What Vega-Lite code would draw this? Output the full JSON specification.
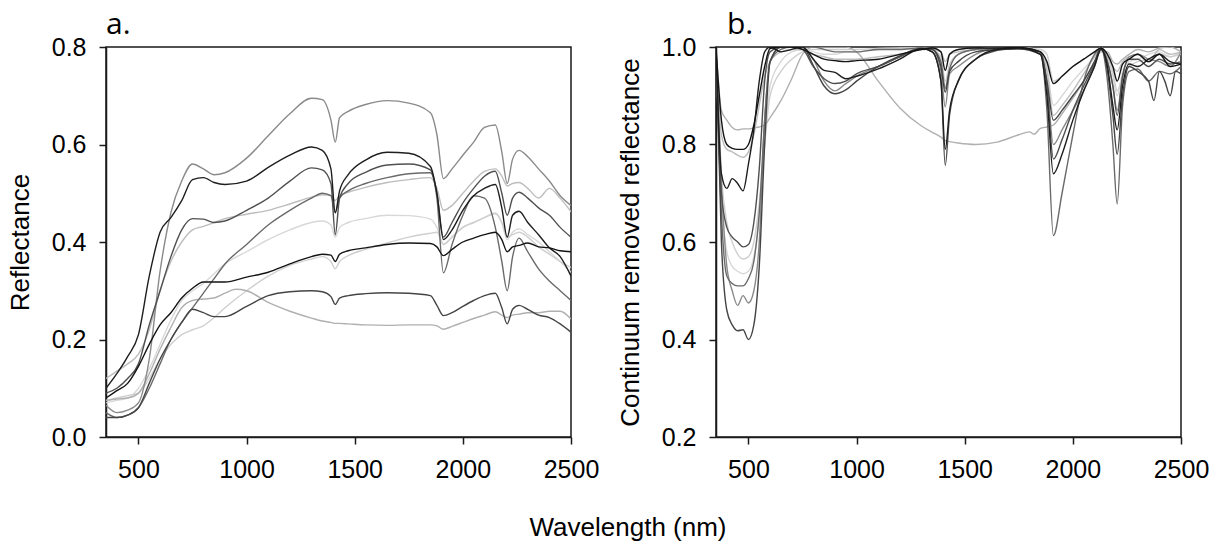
{
"$schema": "https://vega.github.io/schema/vega-lite/v6.json",
"background": "white",
"padding": {"left": 6, "top": 9, "right": 5, "bottom": 0},
"spacing": 145,
"bounds": "flush",
"title": {"text": "Wavelength (nm)", "orient": "bottom", "anchor": "middle", "font": "Liberation Sans", "fontSize": 26, "fontWeight": "normal", "color": "black", "baseline": "alphabetic", "offset": 53, "dx": 20},
"config": {
 "view": {"stroke": "#1a1a1a", "strokeWidth": 1.5},
 "axis": {"grid": false, "domainColor": "#1a1a1a", "domainWidth": 1.5, "tickColor": "#1a1a1a", "tickWidth": 1.5, "tickSize": 7, "labelFont": "Liberation Sans", "labelFontSize": 25, "labelColor": "black", "labelPadding": 13, "titleFont": "Liberation Sans", "titleFontSize": 26, "titleFontWeight": "normal", "titleColor": "black", "titlePadding": 18, "labelFlush": false, "labelOverlap": false}
},
"datasets": {
"a": [
{"s":"c6","w":350,"v":0.07},{"s":"c6","w":400,"v":0.075},{"s":"c6","w":450,"v":0.08},{"s":"c6","w":500,"v":0.1},{"s":"c6","w":550,"v":0.14},{"s":"c6","w":600,"v":0.19},{"s":"c6","w":650,"v":0.24},{"s":"c6","w":700,"v":0.28},{"s":"c6","w":750,"v":0.3},{"s":"c6","w":800,"v":0.315},{"s":"c6","w":850,"v":0.335},{"s":"c6","w":900,"v":0.355},{"s":"c6","w":1000,"v":0.38},{"s":"c6","w":1100,"v":0.405},{"s":"c6","w":1200,"v":0.425},{"s":"c6","w":1300,"v":0.44},{"s":"c6","w":1350,"v":0.443},{"s":"c6","w":1390,"v":0.435},{"s":"c6","w":1410,"v":0.41},{"s":"c6","w":1430,"v":0.43},{"s":"c6","w":1470,"v":0.44},{"s":"c6","w":1550,"v":0.448},{"s":"c6","w":1650,"v":0.455},{"s":"c6","w":1750,"v":0.454},{"s":"c6","w":1850,"v":0.447},{"s":"c6","w":1880,"v":0.43},{"s":"c6","w":1910,"v":0.395},{"s":"c6","w":1950,"v":0.41},{"s":"c6","w":2000,"v":0.43},{"s":"c6","w":2050,"v":0.44},{"s":"c6","w":2100,"v":0.45},{"s":"c6","w":2150,"v":0.46},{"s":"c6","w":2180,"v":0.44},{"s":"c6","w":2205,"v":0.405},{"s":"c6","w":2230,"v":0.42},{"s":"c6","w":2260,"v":0.427},{"s":"c6","w":2300,"v":0.415},{"s":"c6","w":2350,"v":0.4},{"s":"c6","w":2400,"v":0.38},{"s":"c6","w":2450,"v":0.36},{"s":"c6","w":2500,"v":0.338},
{"s":"c8","w":350,"v":0.075},{"s":"c8","w":400,"v":0.08},{"s":"c8","w":450,"v":0.085},{"s":"c8","w":500,"v":0.09},{"s":"c8","w":550,"v":0.12},{"s":"c8","w":600,"v":0.16},{"s":"c8","w":650,"v":0.19},{"s":"c8","w":700,"v":0.21},{"s":"c8","w":750,"v":0.22},{"s":"c8","w":800,"v":0.228},{"s":"c8","w":850,"v":0.245},{"s":"c8","w":900,"v":0.265},{"s":"c8","w":1000,"v":0.3},{"s":"c8","w":1100,"v":0.33},{"s":"c8","w":1200,"v":0.352},{"s":"c8","w":1300,"v":0.365},{"s":"c8","w":1350,"v":0.37},{"s":"c8","w":1390,"v":0.36},{"s":"c8","w":1410,"v":0.345},{"s":"c8","w":1430,"v":0.36},{"s":"c8","w":1470,"v":0.372},{"s":"c8","w":1550,"v":0.385},{"s":"c8","w":1650,"v":0.398},{"s":"c8","w":1750,"v":0.41},{"s":"c8","w":1850,"v":0.418},{"s":"c8","w":1880,"v":0.42},{"s":"c8","w":1910,"v":0.395},{"s":"c8","w":1950,"v":0.41},{"s":"c8","w":2000,"v":0.43},{"s":"c8","w":2050,"v":0.44},{"s":"c8","w":2100,"v":0.45},{"s":"c8","w":2150,"v":0.458},{"s":"c8","w":2180,"v":0.44},{"s":"c8","w":2205,"v":0.41},{"s":"c8","w":2230,"v":0.415},{"s":"c8","w":2260,"v":0.42},{"s":"c8","w":2300,"v":0.41},{"s":"c8","w":2350,"v":0.39},{"s":"c8","w":2400,"v":0.375},{"s":"c8","w":2450,"v":0.36},{"s":"c8","w":2500,"v":0.348},
{"s":"c5","w":350,"v":0.12},{"s":"c5","w":400,"v":0.135},{"s":"c5","w":450,"v":0.15},{"s":"c5","w":500,"v":0.17},{"s":"c5","w":550,"v":0.22},{"s":"c5","w":600,"v":0.3},{"s":"c5","w":650,"v":0.36},{"s":"c5","w":700,"v":0.4},{"s":"c5","w":750,"v":0.425},{"s":"c5","w":800,"v":0.432},{"s":"c5","w":850,"v":0.44},{"s":"c5","w":900,"v":0.448},{"s":"c5","w":1000,"v":0.457},{"s":"c5","w":1100,"v":0.465},{"s":"c5","w":1200,"v":0.478},{"s":"c5","w":1300,"v":0.492},{"s":"c5","w":1350,"v":0.497},{"s":"c5","w":1390,"v":0.495},{"s":"c5","w":1410,"v":0.485},{"s":"c5","w":1430,"v":0.495},{"s":"c5","w":1470,"v":0.502},{"s":"c5","w":1550,"v":0.512},{"s":"c5","w":1650,"v":0.522},{"s":"c5","w":1750,"v":0.528},{"s":"c5","w":1850,"v":0.532},{"s":"c5","w":1880,"v":0.51},{"s":"c5","w":1910,"v":0.465},{"s":"c5","w":1950,"v":0.475},{"s":"c5","w":2000,"v":0.5},{"s":"c5","w":2050,"v":0.525},{"s":"c5","w":2100,"v":0.545},{"s":"c5","w":2150,"v":0.55},{"s":"c5","w":2180,"v":0.535},{"s":"c5","w":2205,"v":0.515},{"s":"c5","w":2230,"v":0.52},{"s":"c5","w":2260,"v":0.522},{"s":"c5","w":2300,"v":0.51},{"s":"c5","w":2350,"v":0.49},{"s":"c5","w":2400,"v":0.51},{"s":"c5","w":2450,"v":0.49},{"s":"c5","w":2500,"v":0.462},
{"s":"c10","w":350,"v":0.075},{"s":"c10","w":400,"v":0.078},{"s":"c10","w":450,"v":0.08},{"s":"c10","w":500,"v":0.09},{"s":"c10","w":550,"v":0.13},{"s":"c10","w":600,"v":0.18},{"s":"c10","w":650,"v":0.225},{"s":"c10","w":700,"v":0.265},{"s":"c10","w":750,"v":0.28},{"s":"c10","w":800,"v":0.283},{"s":"c10","w":850,"v":0.285},{"s":"c10","w":900,"v":0.295},{"s":"c10","w":950,"v":0.303},{"s":"c10","w":1000,"v":0.3},{"s":"c10","w":1100,"v":0.276},{"s":"c10","w":1200,"v":0.258},{"s":"c10","w":1300,"v":0.244},{"s":"c10","w":1350,"v":0.238},{"s":"c10","w":1390,"v":0.235},{"s":"c10","w":1410,"v":0.233},{"s":"c10","w":1430,"v":0.233},{"s":"c10","w":1470,"v":0.232},{"s":"c10","w":1550,"v":0.23},{"s":"c10","w":1650,"v":0.229},{"s":"c10","w":1750,"v":0.23},{"s":"c10","w":1850,"v":0.23},{"s":"c10","w":1880,"v":0.228},{"s":"c10","w":1910,"v":0.221},{"s":"c10","w":1950,"v":0.227},{"s":"c10","w":2000,"v":0.235},{"s":"c10","w":2050,"v":0.243},{"s":"c10","w":2100,"v":0.25},{"s":"c10","w":2150,"v":0.257},{"s":"c10","w":2180,"v":0.25},{"s":"c10","w":2205,"v":0.245},{"s":"c10","w":2230,"v":0.25},{"s":"c10","w":2260,"v":0.252},{"s":"c10","w":2300,"v":0.255},{"s":"c10","w":2350,"v":0.255},{"s":"c10","w":2400,"v":0.258},{"s":"c10","w":2450,"v":0.258},{"s":"c10","w":2500,"v":0.242},
{"s":"c1","w":350,"v":0.065},{"s":"c1","w":400,"v":0.05},{"s":"c1","w":450,"v":0.055},{"s":"c1","w":500,"v":0.07},{"s":"c1","w":550,"v":0.16},{"s":"c1","w":600,"v":0.34},{"s":"c1","w":650,"v":0.46},{"s":"c1","w":700,"v":0.525},{"s":"c1","w":750,"v":0.56},{"s":"c1","w":800,"v":0.55},{"s":"c1","w":850,"v":0.538},{"s":"c1","w":900,"v":0.542},{"s":"c1","w":1000,"v":0.572},{"s":"c1","w":1100,"v":0.618},{"s":"c1","w":1200,"v":0.663},{"s":"c1","w":1300,"v":0.695},{"s":"c1","w":1350,"v":0.692},{"s":"c1","w":1390,"v":0.65},{"s":"c1","w":1410,"v":0.605},{"s":"c1","w":1430,"v":0.655},{"s":"c1","w":1470,"v":0.668},{"s":"c1","w":1550,"v":0.682},{"s":"c1","w":1650,"v":0.69},{"s":"c1","w":1750,"v":0.685},{"s":"c1","w":1850,"v":0.665},{"s":"c1","w":1880,"v":0.62},{"s":"c1","w":1910,"v":0.53},{"s":"c1","w":1950,"v":0.55},{"s":"c1","w":2000,"v":0.578},{"s":"c1","w":2050,"v":0.605},{"s":"c1","w":2100,"v":0.635},{"s":"c1","w":2150,"v":0.64},{"s":"c1","w":2180,"v":0.585},{"s":"c1","w":2205,"v":0.52},{"s":"c1","w":2230,"v":0.57},{"s":"c1","w":2260,"v":0.588},{"s":"c1","w":2300,"v":0.575},{"s":"c1","w":2350,"v":0.55},{"s":"c1","w":2400,"v":0.525},{"s":"c1","w":2450,"v":0.495},{"s":"c1","w":2500,"v":0.475},
{"s":"c4","w":350,"v":0.05},{"s":"c4","w":400,"v":0.04},{"s":"c4","w":450,"v":0.045},{"s":"c4","w":500,"v":0.06},{"s":"c4","w":550,"v":0.1},{"s":"c4","w":600,"v":0.15},{"s":"c4","w":650,"v":0.2},{"s":"c4","w":700,"v":0.235},{"s":"c4","w":750,"v":0.265},{"s":"c4","w":800,"v":0.295},{"s":"c4","w":850,"v":0.325},{"s":"c4","w":900,"v":0.355},{"s":"c4","w":1000,"v":0.395},{"s":"c4","w":1100,"v":0.435},{"s":"c4","w":1200,"v":0.465},{"s":"c4","w":1300,"v":0.49},{"s":"c4","w":1350,"v":0.5},{"s":"c4","w":1390,"v":0.495},{"s":"c4","w":1410,"v":0.46},{"s":"c4","w":1430,"v":0.49},{"s":"c4","w":1470,"v":0.505},{"s":"c4","w":1550,"v":0.52},{"s":"c4","w":1650,"v":0.532},{"s":"c4","w":1750,"v":0.54},{"s":"c4","w":1850,"v":0.542},{"s":"c4","w":1880,"v":0.49},{"s":"c4","w":1910,"v":0.337},{"s":"c4","w":1950,"v":0.395},{"s":"c4","w":2000,"v":0.455},{"s":"c4","w":2050,"v":0.495},{"s":"c4","w":2100,"v":0.49},{"s":"c4","w":2150,"v":0.43},{"s":"c4","w":2180,"v":0.36},{"s":"c4","w":2205,"v":0.3},{"s":"c4","w":2230,"v":0.37},{"s":"c4","w":2260,"v":0.408},{"s":"c4","w":2300,"v":0.38},{"s":"c4","w":2350,"v":0.345},{"s":"c4","w":2400,"v":0.32},{"s":"c4","w":2450,"v":0.3},{"s":"c4","w":2500,"v":0.28},
{"s":"c3","w":350,"v":0.09},{"s":"c3","w":400,"v":0.1},{"s":"c3","w":450,"v":0.12},{"s":"c3","w":500,"v":0.15},{"s":"c3","w":550,"v":0.23},{"s":"c3","w":600,"v":0.3},{"s":"c3","w":650,"v":0.37},{"s":"c3","w":700,"v":0.425},{"s":"c3","w":750,"v":0.448},{"s":"c3","w":800,"v":0.447},{"s":"c3","w":850,"v":0.44},{"s":"c3","w":900,"v":0.443},{"s":"c3","w":1000,"v":0.465},{"s":"c3","w":1100,"v":0.49},{"s":"c3","w":1200,"v":0.525},{"s":"c3","w":1300,"v":0.552},{"s":"c3","w":1350,"v":0.548},{"s":"c3","w":1390,"v":0.52},{"s":"c3","w":1410,"v":0.415},{"s":"c3","w":1430,"v":0.49},{"s":"c3","w":1470,"v":0.52},{"s":"c3","w":1550,"v":0.543},{"s":"c3","w":1650,"v":0.558},{"s":"c3","w":1750,"v":0.56},{"s":"c3","w":1850,"v":0.548},{"s":"c3","w":1880,"v":0.5},{"s":"c3","w":1910,"v":0.41},{"s":"c3","w":1950,"v":0.44},{"s":"c3","w":2000,"v":0.48},{"s":"c3","w":2050,"v":0.51},{"s":"c3","w":2100,"v":0.535},{"s":"c3","w":2150,"v":0.545},{"s":"c3","w":2180,"v":0.5},{"s":"c3","w":2205,"v":0.455},{"s":"c3","w":2230,"v":0.49},{"s":"c3","w":2260,"v":0.502},{"s":"c3","w":2300,"v":0.49},{"s":"c3","w":2350,"v":0.47},{"s":"c3","w":2400,"v":0.455},{"s":"c3","w":2450,"v":0.43},{"s":"c3","w":2500,"v":0.41},
{"s":"c9","w":350,"v":0.04},{"s":"c9","w":400,"v":0.04},{"s":"c9","w":450,"v":0.045},{"s":"c9","w":500,"v":0.06},{"s":"c9","w":550,"v":0.11},{"s":"c9","w":600,"v":0.16},{"s":"c9","w":650,"v":0.2},{"s":"c9","w":700,"v":0.235},{"s":"c9","w":750,"v":0.262},{"s":"c9","w":800,"v":0.255},{"s":"c9","w":850,"v":0.247},{"s":"c9","w":900,"v":0.247},{"s":"c9","w":1000,"v":0.268},{"s":"c9","w":1100,"v":0.29},{"s":"c9","w":1200,"v":0.298},{"s":"c9","w":1300,"v":0.3},{"s":"c9","w":1350,"v":0.298},{"s":"c9","w":1390,"v":0.288},{"s":"c9","w":1410,"v":0.272},{"s":"c9","w":1430,"v":0.285},{"s":"c9","w":1470,"v":0.29},{"s":"c9","w":1550,"v":0.294},{"s":"c9","w":1650,"v":0.296},{"s":"c9","w":1750,"v":0.295},{"s":"c9","w":1850,"v":0.29},{"s":"c9","w":1880,"v":0.27},{"s":"c9","w":1910,"v":0.249},{"s":"c9","w":1950,"v":0.255},{"s":"c9","w":2000,"v":0.268},{"s":"c9","w":2050,"v":0.28},{"s":"c9","w":2100,"v":0.29},{"s":"c9","w":2150,"v":0.295},{"s":"c9","w":2180,"v":0.265},{"s":"c9","w":2205,"v":0.232},{"s":"c9","w":2230,"v":0.262},{"s":"c9","w":2260,"v":0.27},{"s":"c9","w":2300,"v":0.262},{"s":"c9","w":2350,"v":0.25},{"s":"c9","w":2400,"v":0.245},{"s":"c9","w":2450,"v":0.232},{"s":"c9","w":2500,"v":0.215},
{"s":"c2","w":350,"v":0.1},{"s":"c2","w":400,"v":0.13},{"s":"c2","w":450,"v":0.165},{"s":"c2","w":500,"v":0.21},{"s":"c2","w":550,"v":0.33},{"s":"c2","w":600,"v":0.42},{"s":"c2","w":650,"v":0.45},{"s":"c2","w":700,"v":0.485},{"s":"c2","w":750,"v":0.528},{"s":"c2","w":800,"v":0.532},{"s":"c2","w":850,"v":0.522},{"s":"c2","w":900,"v":0.518},{"s":"c2","w":1000,"v":0.525},{"s":"c2","w":1100,"v":0.553},{"s":"c2","w":1200,"v":0.578},{"s":"c2","w":1300,"v":0.595},{"s":"c2","w":1350,"v":0.588},{"s":"c2","w":1390,"v":0.55},{"s":"c2","w":1410,"v":0.46},{"s":"c2","w":1430,"v":0.505},{"s":"c2","w":1470,"v":0.538},{"s":"c2","w":1550,"v":0.568},{"s":"c2","w":1650,"v":0.584},{"s":"c2","w":1750,"v":0.582},{"s":"c2","w":1850,"v":0.555},{"s":"c2","w":1880,"v":0.5},{"s":"c2","w":1910,"v":0.405},{"s":"c2","w":1950,"v":0.425},{"s":"c2","w":2000,"v":0.465},{"s":"c2","w":2050,"v":0.495},{"s":"c2","w":2100,"v":0.51},{"s":"c2","w":2150,"v":0.518},{"s":"c2","w":2180,"v":0.47},{"s":"c2","w":2205,"v":0.41},{"s":"c2","w":2230,"v":0.455},{"s":"c2","w":2260,"v":0.463},{"s":"c2","w":2300,"v":0.44},{"s":"c2","w":2350,"v":0.415},{"s":"c2","w":2400,"v":0.388},{"s":"c2","w":2450,"v":0.37},{"s":"c2","w":2500,"v":0.33},
{"s":"c7","w":350,"v":0.08},{"s":"c7","w":400,"v":0.095},{"s":"c7","w":450,"v":0.11},{"s":"c7","w":500,"v":0.145},{"s":"c7","w":550,"v":0.19},{"s":"c7","w":600,"v":0.23},{"s":"c7","w":650,"v":0.255},{"s":"c7","w":700,"v":0.285},{"s":"c7","w":750,"v":0.305},{"s":"c7","w":800,"v":0.318},{"s":"c7","w":850,"v":0.318},{"s":"c7","w":900,"v":0.318},{"s":"c7","w":1000,"v":0.328},{"s":"c7","w":1100,"v":0.338},{"s":"c7","w":1200,"v":0.355},{"s":"c7","w":1300,"v":0.37},{"s":"c7","w":1350,"v":0.375},{"s":"c7","w":1390,"v":0.373},{"s":"c7","w":1410,"v":0.36},{"s":"c7","w":1430,"v":0.375},{"s":"c7","w":1470,"v":0.382},{"s":"c7","w":1550,"v":0.388},{"s":"c7","w":1650,"v":0.395},{"s":"c7","w":1750,"v":0.398},{"s":"c7","w":1850,"v":0.397},{"s":"c7","w":1880,"v":0.39},{"s":"c7","w":1910,"v":0.372},{"s":"c7","w":1950,"v":0.385},{"s":"c7","w":2000,"v":0.4},{"s":"c7","w":2050,"v":0.408},{"s":"c7","w":2100,"v":0.415},{"s":"c7","w":2150,"v":0.42},{"s":"c7","w":2180,"v":0.405},{"s":"c7","w":2205,"v":0.38},{"s":"c7","w":2230,"v":0.39},{"s":"c7","w":2260,"v":0.393},{"s":"c7","w":2300,"v":0.398},{"s":"c7","w":2350,"v":0.39},{"s":"c7","w":2400,"v":0.388},{"s":"c7","w":2450,"v":0.382},{"s":"c7","w":2500,"v":0.38}
],
"b": [
{"s":"c6","w":350,"v":1},{"s":"c6","w":375,"v":0.7},{"s":"c6","w":400,"v":0.58},{"s":"c6","w":425,"v":0.55},{"s":"c6","w":450,"v":0.54},{"s":"c6","w":475,"v":0.535},{"s":"c6","w":500,"v":0.54},{"s":"c6","w":525,"v":0.57},{"s":"c6","w":550,"v":0.65},{"s":"c6","w":575,"v":0.8},{"s":"c6","w":600,"v":0.92},{"s":"c6","w":650,"v":0.97},{"s":"c6","w":700,"v":0.99},{"s":"c6","w":750,"v":0.995},{"s":"c6","w":800,"v":0.99},{"s":"c6","w":850,"v":0.985},{"s":"c6","w":900,"v":0.985},{"s":"c6","w":950,"v":0.99},{"s":"c6","w":1000,"v":0.99},{"s":"c6","w":1100,"v":0.995},{"s":"c6","w":1200,"v":0.997},{"s":"c6","w":1300,"v":0.998},{"s":"c6","w":1350,"v":0.995},{"s":"c6","w":1390,"v":0.975},{"s":"c6","w":1410,"v":0.92},{"s":"c6","w":1430,"v":0.96},{"s":"c6","w":1470,"v":0.985},{"s":"c6","w":1550,"v":0.995},{"s":"c6","w":1650,"v":0.998},{"s":"c6","w":1750,"v":0.998},{"s":"c6","w":1850,"v":0.99},{"s":"c6","w":1880,"v":0.96},{"s":"c6","w":1910,"v":0.88},{"s":"c6","w":1950,"v":0.9},{"s":"c6","w":2000,"v":0.93},{"s":"c6","w":2050,"v":0.955},{"s":"c6","w":2100,"v":0.98},{"s":"c6","w":2130,"v":0.998},{"s":"c6","w":2160,"v":0.98},{"s":"c6","w":2185,"v":0.94},{"s":"c6","w":2205,"v":0.9},{"s":"c6","w":2230,"v":0.95},{"s":"c6","w":2260,"v":0.97},{"s":"c6","w":2300,"v":0.975},{"s":"c6","w":2350,"v":0.985},{"s":"c6","w":2400,"v":0.99},{"s":"c6","w":2450,"v":0.98},{"s":"c6","w":2500,"v":0.985},
{"s":"c8","w":350,"v":1},{"s":"c8","w":375,"v":0.74},{"s":"c8","w":400,"v":0.64},{"s":"c8","w":425,"v":0.6},{"s":"c8","w":450,"v":0.575},{"s":"c8","w":475,"v":0.565},{"s":"c8","w":500,"v":0.57},{"s":"c8","w":525,"v":0.6},{"s":"c8","w":550,"v":0.68},{"s":"c8","w":575,"v":0.8},{"s":"c8","w":600,"v":0.9},{"s":"c8","w":650,"v":0.95},{"s":"c8","w":700,"v":0.975},{"s":"c8","w":750,"v":0.99},{"s":"c8","w":800,"v":0.995},{"s":"c8","w":850,"v":0.995},{"s":"c8","w":900,"v":0.995},{"s":"c8","w":950,"v":0.995},{"s":"c8","w":1000,"v":0.995},{"s":"c8","w":1100,"v":0.997},{"s":"c8","w":1200,"v":0.998},{"s":"c8","w":1300,"v":0.998},{"s":"c8","w":1350,"v":0.995},{"s":"c8","w":1390,"v":0.98},{"s":"c8","w":1410,"v":0.93},{"s":"c8","w":1430,"v":0.965},{"s":"c8","w":1470,"v":0.985},{"s":"c8","w":1550,"v":0.995},{"s":"c8","w":1650,"v":0.998},{"s":"c8","w":1750,"v":0.998},{"s":"c8","w":1850,"v":0.995},{"s":"c8","w":1880,"v":0.985},{"s":"c8","w":1910,"v":0.93},{"s":"c8","w":1950,"v":0.94},{"s":"c8","w":2000,"v":0.96},{"s":"c8","w":2050,"v":0.975},{"s":"c8","w":2100,"v":0.99},{"s":"c8","w":2130,"v":0.998},{"s":"c8","w":2160,"v":0.98},{"s":"c8","w":2185,"v":0.95},{"s":"c8","w":2205,"v":0.91},{"s":"c8","w":2230,"v":0.94},{"s":"c8","w":2260,"v":0.96},{"s":"c8","w":2300,"v":0.97},{"s":"c8","w":2350,"v":0.975},{"s":"c8","w":2400,"v":0.985},{"s":"c8","w":2450,"v":0.98},{"s":"c8","w":2500,"v":0.99},
{"s":"c5","w":350,"v":1},{"s":"c5","w":375,"v":0.82},{"s":"c5","w":400,"v":0.79},{"s":"c5","w":425,"v":0.785},{"s":"c5","w":450,"v":0.778},{"s":"c5","w":475,"v":0.774},{"s":"c5","w":500,"v":0.785},{"s":"c5","w":525,"v":0.82},{"s":"c5","w":550,"v":0.88},{"s":"c5","w":575,"v":0.94},{"s":"c5","w":600,"v":0.97},{"s":"c5","w":650,"v":0.99},{"s":"c5","w":700,"v":0.995},{"s":"c5","w":750,"v":0.995},{"s":"c5","w":800,"v":0.985},{"s":"c5","w":850,"v":0.98},{"s":"c5","w":900,"v":0.975},{"s":"c5","w":950,"v":0.975},{"s":"c5","w":1000,"v":0.975},{"s":"c5","w":1100,"v":0.98},{"s":"c5","w":1200,"v":0.985},{"s":"c5","w":1300,"v":0.995},{"s":"c5","w":1350,"v":0.995},{"s":"c5","w":1390,"v":0.99},{"s":"c5","w":1410,"v":0.97},{"s":"c5","w":1430,"v":0.985},{"s":"c5","w":1470,"v":0.99},{"s":"c5","w":1550,"v":0.995},{"s":"c5","w":1650,"v":0.997},{"s":"c5","w":1750,"v":0.997},{"s":"c5","w":1850,"v":0.99},{"s":"c5","w":1880,"v":0.95},{"s":"c5","w":1910,"v":0.86},{"s":"c5","w":1950,"v":0.88},{"s":"c5","w":2000,"v":0.91},{"s":"c5","w":2050,"v":0.945},{"s":"c5","w":2100,"v":0.98},{"s":"c5","w":2130,"v":0.998},{"s":"c5","w":2160,"v":0.98},{"s":"c5","w":2185,"v":0.96},{"s":"c5","w":2205,"v":0.95},{"s":"c5","w":2230,"v":0.97},{"s":"c5","w":2260,"v":0.98},{"s":"c5","w":2300,"v":0.985},{"s":"c5","w":2350,"v":0.97},{"s":"c5","w":2400,"v":0.995},{"s":"c5","w":2450,"v":0.985},{"s":"c5","w":2500,"v":0.99},
{"s":"c10","w":350,"v":1},{"s":"c10","w":375,"v":0.87},{"s":"c10","w":400,"v":0.85},{"s":"c10","w":425,"v":0.835},{"s":"c10","w":450,"v":0.83},{"s":"c10","w":475,"v":0.832},{"s":"c10","w":500,"v":0.832},{"s":"c10","w":525,"v":0.834},{"s":"c10","w":550,"v":0.836},{"s":"c10","w":575,"v":0.84},{"s":"c10","w":600,"v":0.855},{"s":"c10","w":650,"v":0.89},{"s":"c10","w":700,"v":0.935},{"s":"c10","w":750,"v":0.985},{"s":"c10","w":800,"v":1},{"s":"c10","w":850,"v":1},{"s":"c10","w":900,"v":1},{"s":"c10","w":950,"v":1},{"s":"c10","w":1000,"v":0.99},{"s":"c10","w":1100,"v":0.93},{"s":"c10","w":1200,"v":0.875},{"s":"c10","w":1300,"v":0.838},{"s":"c10","w":1350,"v":0.825},{"s":"c10","w":1390,"v":0.815},{"s":"c10","w":1410,"v":0.808},{"s":"c10","w":1430,"v":0.806},{"s":"c10","w":1470,"v":0.803},{"s":"c10","w":1550,"v":0.8},{"s":"c10","w":1650,"v":0.805},{"s":"c10","w":1750,"v":0.82},{"s":"c10","w":1800,"v":0.826},{"s":"c10","w":1820,"v":0.821},{"s":"c10","w":1850,"v":0.833},{"s":"c10","w":1880,"v":0.836},{"s":"c10","w":1910,"v":0.84},{"s":"c10","w":1950,"v":0.863},{"s":"c10","w":2000,"v":0.895},{"s":"c10","w":2050,"v":0.93},{"s":"c10","w":2100,"v":0.97},{"s":"c10","w":2130,"v":0.99},{"s":"c10","w":2160,"v":0.99},{"s":"c10","w":2185,"v":0.97},{"s":"c10","w":2205,"v":0.965},{"s":"c10","w":2230,"v":0.975},{"s":"c10","w":2260,"v":0.985},{"s":"c10","w":2300,"v":0.995},{"s":"c10","w":2350,"v":0.99},{"s":"c10","w":2400,"v":0.998},{"s":"c10","w":2450,"v":1},{"s":"c10","w":2500,"v":0.99},
{"s":"c1","w":350,"v":1},{"s":"c1","w":375,"v":0.72},{"s":"c1","w":400,"v":0.55},{"s":"c1","w":425,"v":0.5},{"s":"c1","w":450,"v":0.47},{"s":"c1","w":475,"v":0.49},{"s":"c1","w":500,"v":0.475},{"s":"c1","w":525,"v":0.5},{"s":"c1","w":550,"v":0.6},{"s":"c1","w":575,"v":0.85},{"s":"c1","w":600,"v":0.97},{"s":"c1","w":650,"v":1},{"s":"c1","w":700,"v":1},{"s":"c1","w":750,"v":1},{"s":"c1","w":800,"v":0.975},{"s":"c1","w":850,"v":0.93},{"s":"c1","w":900,"v":0.91},{"s":"c1","w":950,"v":0.925},{"s":"c1","w":1000,"v":0.94},{"s":"c1","w":1100,"v":0.96},{"s":"c1","w":1200,"v":0.98},{"s":"c1","w":1300,"v":1},{"s":"c1","w":1350,"v":0.995},{"s":"c1","w":1390,"v":0.95},{"s":"c1","w":1410,"v":0.877},{"s":"c1","w":1430,"v":0.945},{"s":"c1","w":1470,"v":0.96},{"s":"c1","w":1550,"v":0.985},{"s":"c1","w":1650,"v":0.998},{"s":"c1","w":1750,"v":0.999},{"s":"c1","w":1850,"v":0.99},{"s":"c1","w":1880,"v":0.93},{"s":"c1","w":1910,"v":0.8},{"s":"c1","w":1950,"v":0.83},{"s":"c1","w":2000,"v":0.87},{"s":"c1","w":2050,"v":0.91},{"s":"c1","w":2100,"v":0.96},{"s":"c1","w":2130,"v":0.995},{"s":"c1","w":2160,"v":0.97},{"s":"c1","w":2185,"v":0.92},{"s":"c1","w":2205,"v":0.87},{"s":"c1","w":2230,"v":0.94},{"s":"c1","w":2260,"v":0.98},{"s":"c1","w":2300,"v":0.985},{"s":"c1","w":2350,"v":0.975},{"s":"c1","w":2400,"v":0.97},{"s":"c1","w":2450,"v":0.96},{"s":"c1","w":2500,"v":0.99},
{"s":"c4","w":350,"v":1},{"s":"c4","w":375,"v":0.66},{"s":"c4","w":400,"v":0.53},{"s":"c4","w":425,"v":0.515},{"s":"c4","w":450,"v":0.51},{"s":"c4","w":475,"v":0.51},{"s":"c4","w":500,"v":0.525},{"s":"c4","w":525,"v":0.56},{"s":"c4","w":550,"v":0.66},{"s":"c4","w":575,"v":0.85},{"s":"c4","w":600,"v":0.97},{"s":"c4","w":650,"v":0.995},{"s":"c4","w":700,"v":1},{"s":"c4","w":750,"v":1},{"s":"c4","w":800,"v":1},{"s":"c4","w":850,"v":0.995},{"s":"c4","w":900,"v":0.99},{"s":"c4","w":950,"v":0.99},{"s":"c4","w":1000,"v":0.99},{"s":"c4","w":1100,"v":0.995},{"s":"c4","w":1200,"v":0.995},{"s":"c4","w":1300,"v":0.998},{"s":"c4","w":1350,"v":0.995},{"s":"c4","w":1390,"v":0.97},{"s":"c4","w":1410,"v":0.915},{"s":"c4","w":1430,"v":0.955},{"s":"c4","w":1470,"v":0.985},{"s":"c4","w":1550,"v":0.995},{"s":"c4","w":1650,"v":0.997},{"s":"c4","w":1750,"v":0.998},{"s":"c4","w":1850,"v":0.99},{"s":"c4","w":1880,"v":0.87},{"s":"c4","w":1910,"v":0.613},{"s":"c4","w":1950,"v":0.7},{"s":"c4","w":2000,"v":0.82},{"s":"c4","w":2050,"v":0.93},{"s":"c4","w":2100,"v":0.985},{"s":"c4","w":2130,"v":0.998},{"s":"c4","w":2160,"v":0.93},{"s":"c4","w":2185,"v":0.8},{"s":"c4","w":2205,"v":0.678},{"s":"c4","w":2230,"v":0.88},{"s":"c4","w":2260,"v":0.95},{"s":"c4","w":2300,"v":0.955},{"s":"c4","w":2350,"v":0.93},{"s":"c4","w":2400,"v":0.95},{"s":"c4","w":2450,"v":0.945},{"s":"c4","w":2500,"v":0.96},
{"s":"c3","w":350,"v":1},{"s":"c3","w":375,"v":0.7},{"s":"c3","w":400,"v":0.63},{"s":"c3","w":425,"v":0.61},{"s":"c3","w":450,"v":0.6},{"s":"c3","w":475,"v":0.59},{"s":"c3","w":500,"v":0.595},{"s":"c3","w":525,"v":0.64},{"s":"c3","w":550,"v":0.75},{"s":"c3","w":575,"v":0.93},{"s":"c3","w":600,"v":0.99},{"s":"c3","w":650,"v":1},{"s":"c3","w":700,"v":1},{"s":"c3","w":750,"v":0.995},{"s":"c3","w":800,"v":0.96},{"s":"c3","w":850,"v":0.935},{"s":"c3","w":900,"v":0.925},{"s":"c3","w":950,"v":0.93},{"s":"c3","w":1000,"v":0.945},{"s":"c3","w":1100,"v":0.96},{"s":"c3","w":1200,"v":0.98},{"s":"c3","w":1300,"v":0.997},{"s":"c3","w":1350,"v":0.99},{"s":"c3","w":1390,"v":0.93},{"s":"c3","w":1410,"v":0.757},{"s":"c3","w":1430,"v":0.86},{"s":"c3","w":1470,"v":0.93},{"s":"c3","w":1550,"v":0.975},{"s":"c3","w":1650,"v":0.993},{"s":"c3","w":1750,"v":0.998},{"s":"c3","w":1850,"v":0.99},{"s":"c3","w":1880,"v":0.92},{"s":"c3","w":1910,"v":0.77},{"s":"c3","w":1950,"v":0.81},{"s":"c3","w":2000,"v":0.87},{"s":"c3","w":2050,"v":0.92},{"s":"c3","w":2100,"v":0.965},{"s":"c3","w":2130,"v":0.998},{"s":"c3","w":2160,"v":0.97},{"s":"c3","w":2185,"v":0.92},{"s":"c3","w":2205,"v":0.86},{"s":"c3","w":2230,"v":0.94},{"s":"c3","w":2260,"v":0.975},{"s":"c3","w":2300,"v":0.975},{"s":"c3","w":2350,"v":0.96},{"s":"c3","w":2400,"v":0.975},{"s":"c3","w":2450,"v":0.965},{"s":"c3","w":2500,"v":0.97},
{"s":"c9","w":350,"v":1},{"s":"c9","w":375,"v":0.6},{"s":"c9","w":400,"v":0.46},{"s":"c9","w":425,"v":0.43},{"s":"c9","w":450,"v":0.418},{"s":"c9","w":475,"v":0.42},{"s":"c9","w":500,"v":0.4},{"s":"c9","w":525,"v":0.43},{"s":"c9","w":550,"v":0.55},{"s":"c9","w":575,"v":0.8},{"s":"c9","w":600,"v":0.97},{"s":"c9","w":650,"v":1},{"s":"c9","w":700,"v":1},{"s":"c9","w":750,"v":1},{"s":"c9","w":800,"v":0.962},{"s":"c9","w":850,"v":0.92},{"s":"c9","w":900,"v":0.904},{"s":"c9","w":950,"v":0.912},{"s":"c9","w":1000,"v":0.93},{"s":"c9","w":1100,"v":0.96},{"s":"c9","w":1200,"v":0.982},{"s":"c9","w":1300,"v":0.996},{"s":"c9","w":1350,"v":0.995},{"s":"c9","w":1390,"v":0.96},{"s":"c9","w":1410,"v":0.907},{"s":"c9","w":1430,"v":0.95},{"s":"c9","w":1470,"v":0.97},{"s":"c9","w":1550,"v":0.99},{"s":"c9","w":1650,"v":0.995},{"s":"c9","w":1750,"v":0.996},{"s":"c9","w":1850,"v":0.985},{"s":"c9","w":1880,"v":0.93},{"s":"c9","w":1910,"v":0.85},{"s":"c9","w":1950,"v":0.87},{"s":"c9","w":2000,"v":0.9},{"s":"c9","w":2050,"v":0.93},{"s":"c9","w":2100,"v":0.97},{"s":"c9","w":2130,"v":0.998},{"s":"c9","w":2160,"v":0.95},{"s":"c9","w":2185,"v":0.86},{"s":"c9","w":2205,"v":0.78},{"s":"c9","w":2230,"v":0.9},{"s":"c9","w":2260,"v":0.96},{"s":"c9","w":2300,"v":0.95},{"s":"c9","w":2350,"v":0.93},{"s":"c9","w":2375,"v":0.89},{"s":"c9","w":2400,"v":0.95},{"s":"c9","w":2425,"v":0.93},{"s":"c9","w":2450,"v":0.9},{"s":"c9","w":2475,"v":0.95},{"s":"c9","w":2500,"v":0.945},
{"s":"c2","w":350,"v":1},{"s":"c2","w":375,"v":0.74},{"s":"c2","w":400,"v":0.71},{"s":"c2","w":425,"v":0.73},{"s":"c2","w":450,"v":0.72},{"s":"c2","w":475,"v":0.705},{"s":"c2","w":500,"v":0.76},{"s":"c2","w":525,"v":0.83},{"s":"c2","w":550,"v":0.93},{"s":"c2","w":575,"v":0.99},{"s":"c2","w":600,"v":1},{"s":"c2","w":650,"v":0.99},{"s":"c2","w":700,"v":0.995},{"s":"c2","w":750,"v":1},{"s":"c2","w":800,"v":0.975},{"s":"c2","w":850,"v":0.952},{"s":"c2","w":900,"v":0.948},{"s":"c2","w":950,"v":0.935},{"s":"c2","w":1000,"v":0.94},{"s":"c2","w":1100,"v":0.955},{"s":"c2","w":1200,"v":0.975},{"s":"c2","w":1300,"v":0.997},{"s":"c2","w":1350,"v":0.99},{"s":"c2","w":1390,"v":0.93},{"s":"c2","w":1410,"v":0.79},{"s":"c2","w":1430,"v":0.87},{"s":"c2","w":1470,"v":0.93},{"s":"c2","w":1550,"v":0.975},{"s":"c2","w":1650,"v":0.995},{"s":"c2","w":1750,"v":0.998},{"s":"c2","w":1850,"v":0.985},{"s":"c2","w":1880,"v":0.9},{"s":"c2","w":1910,"v":0.74},{"s":"c2","w":1950,"v":0.78},{"s":"c2","w":2000,"v":0.85},{"s":"c2","w":2050,"v":0.91},{"s":"c2","w":2100,"v":0.96},{"s":"c2","w":2130,"v":0.995},{"s":"c2","w":2160,"v":0.96},{"s":"c2","w":2185,"v":0.88},{"s":"c2","w":2205,"v":0.83},{"s":"c2","w":2230,"v":0.92},{"s":"c2","w":2260,"v":0.965},{"s":"c2","w":2300,"v":0.96},{"s":"c2","w":2350,"v":0.975},{"s":"c2","w":2400,"v":0.985},{"s":"c2","w":2450,"v":0.97},{"s":"c2","w":2500,"v":0.965},
{"s":"c7","w":350,"v":1},{"s":"c7","w":375,"v":0.85},{"s":"c7","w":400,"v":0.8},{"s":"c7","w":425,"v":0.792},{"s":"c7","w":450,"v":0.79},{"s":"c7","w":475,"v":0.79},{"s":"c7","w":500,"v":0.8},{"s":"c7","w":525,"v":0.84},{"s":"c7","w":550,"v":0.9},{"s":"c7","w":575,"v":0.96},{"s":"c7","w":600,"v":0.997},{"s":"c7","w":650,"v":1},{"s":"c7","w":700,"v":1},{"s":"c7","w":750,"v":0.995},{"s":"c7","w":800,"v":0.985},{"s":"c7","w":850,"v":0.975},{"s":"c7","w":900,"v":0.972},{"s":"c7","w":950,"v":0.97},{"s":"c7","w":1000,"v":0.972},{"s":"c7","w":1100,"v":0.975},{"s":"c7","w":1200,"v":0.985},{"s":"c7","w":1300,"v":0.995},{"s":"c7","w":1350,"v":0.998},{"s":"c7","w":1390,"v":0.99},{"s":"c7","w":1410,"v":0.952},{"s":"c7","w":1430,"v":0.985},{"s":"c7","w":1470,"v":0.995},{"s":"c7","w":1550,"v":0.998},{"s":"c7","w":1650,"v":0.998},{"s":"c7","w":1750,"v":0.999},{"s":"c7","w":1850,"v":0.99},{"s":"c7","w":1880,"v":0.97},{"s":"c7","w":1910,"v":0.925},{"s":"c7","w":1950,"v":0.94},{"s":"c7","w":2000,"v":0.96},{"s":"c7","w":2050,"v":0.975},{"s":"c7","w":2100,"v":0.99},{"s":"c7","w":2130,"v":0.998},{"s":"c7","w":2160,"v":0.985},{"s":"c7","w":2185,"v":0.96},{"s":"c7","w":2205,"v":0.93},{"s":"c7","w":2230,"v":0.965},{"s":"c7","w":2260,"v":0.975},{"s":"c7","w":2300,"v":0.985},{"s":"c7","w":2350,"v":0.97},{"s":"c7","w":2400,"v":0.985},{"s":"c7","w":2450,"v":0.96},{"s":"c7","w":2500,"v":0.965}
]
},
"hconcat": [
{
 "width": 465, "height": 390,
 "data": {"name": "a"},
 "title": {"text": "a.", "anchor": "start", "frame": "group", "font": "Open Sans", "fontSize": 30, "fontWeight": "normal", "color": "black", "baseline": "alphabetic", "offset": -29},
 "mark": {"type": "line", "strokeWidth": 1.4, "clip": true, "interpolate": "monotone"},
 "encoding": {
  "x": {"field": "w", "type": "quantitative", "scale": {"domain": [350, 2500], "nice": false, "zero": false}, "axis": {"values": [500, 1000, 1500, 2000, 2500], "format": "d", "title": null}},
  "y": {"field": "v", "type": "quantitative", "scale": {"domain": [0, 0.8], "nice": false}, "axis": {"values": [0, 0.2, 0.4, 0.6, 0.8], "format": ".1f", "title": "Reflectance"}},
  "color": {"field": "s", "type": "nominal", "legend": null, "scale": {"domain": ["c1","c2","c3","c4","c5","c6","c7","c8","c9","c10"], "range": ["#8a8a8a","#1e1e1e","#505050","#6a6a6a","#bdbdbd","#d8d8d8","#141414","#cfcfcf","#454545","#b0b0b0"]}}
 }
},
{
 "width": 465, "height": 390,
 "data": {"name": "b"},
 "title": {"text": "b.", "anchor": "start", "frame": "group", "font": "Open Sans", "fontSize": 30, "fontWeight": "normal", "color": "black", "baseline": "alphabetic", "offset": -29, "dx": 11},
 "mark": {"type": "line", "strokeWidth": 1.4, "clip": true, "interpolate": "monotone"},
 "encoding": {
  "x": {"field": "w", "type": "quantitative", "scale": {"domain": [350, 2500], "nice": false, "zero": false}, "axis": {"values": [500, 1000, 1500, 2000, 2500], "format": "d", "title": null}},
  "y": {"field": "v", "type": "quantitative", "scale": {"domain": [0.2, 1.0], "nice": false, "zero": false}, "axis": {"values": [0.2, 0.4, 0.6, 0.8, 1.0], "format": ".1f", "title": "Continuum removed reflectance"}},
  "color": {"field": "s", "type": "nominal", "legend": null, "scale": {"domain": ["c1","c2","c3","c4","c5","c6","c7","c8","c9","c10"], "range": ["#8a8a8a","#1e1e1e","#505050","#6a6a6a","#bdbdbd","#d8d8d8","#141414","#cfcfcf","#454545","#b0b0b0"]}}
 }
}
]
}
